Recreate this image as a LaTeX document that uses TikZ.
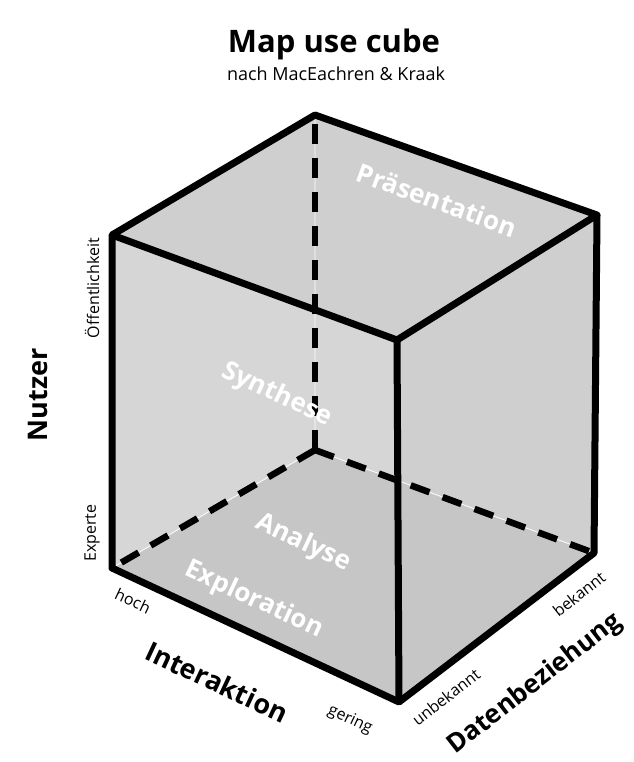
\documentclass[tikz,border=0pt]{standalone}
\usepackage{fontspec}
\setmainfont{Open Sans}
\definecolor{cubegray}{HTML}{CFCFCF}
\definecolor{floorgray}{HTML}{C6C6C6}
\definecolor{leftgray}{HTML}{D6D6D6}
\tikzset{
  edge/.style={line width=7pt, line join=round},
  hidden/.style={line width=6.5pt, dash pattern=on 20pt off 14pt},
  faint/.style={white, line width=0.8pt},
  facelabel/.style={text=white, font=\bfseries\fontsize{26}{30}\selectfont},
  axislabel/.style={font=\bfseries\fontsize{27}{30}\selectfont},
  ticklabel/.style={font=\fontsize{16}{18}\selectfont}
}
\begin{document}
\begin{tikzpicture}[x=1pt,y=-1pt]
        \useasboundingbox (0,0) rectangle (633,762);
        % corners
        \coordinate (tb) at (315,115);
        \coordinate (tl) at (112,235);
        \coordinate (tr) at (597,215);
        \coordinate (tf) at (397,340);
        \coordinate (bb) at (315,450);
        \coordinate (bl) at (112,568);
        \coordinate (br) at (594,553);
        \coordinate (bf) at (399,702);
        % faces
        \fill[cubegray] (tb) -- (tr) -- (br) -- (bf) -- (bl) -- (tl) -- cycle;
        \fill[leftgray] (tl) -- (tf) -- (bf) -- (bl) -- cycle;
        \fill[floorgray] (bb) -- (br) -- (bf) -- (bl) -- cycle;
        % hidden edges
        \draw[faint] (tb) -- (bb) (bb) -- (bl) (bb) -- (br);
        \draw[hidden] (bb) -- (tb);
        \draw[hidden] (bb) -- (bl);
        \draw[hidden] (bb) -- (br);
        % visible edges
        \draw[edge] (tb) -- (tr) -- (br) -- (bf) -- (bl) -- (tl) -- cycle;
        \draw[edge] (tl) -- (tf) -- (tr);
        \draw[edge] (tf) -- (bf);
        % title
        \node[font=\bfseries\fontsize{31}{34}\selectfont] (title) at (334,44) {Map use cube};
        \node[font=\fontsize{18}{20}\selectfont] (sub) at (336,74) {nach MacEachren \& Kraak};
        % face texts
        \node[facelabel, rotate=-20] (praes) at (437,200) {Präsentation};
        \node[facelabel, rotate=-25] (synth) at (277,395) {Synthese};
        \node[facelabel, rotate=-25] (anal) at (303,543) {Analyse};
        \node[facelabel, rotate=-25] (explo) at (254,600) {Exploration};
        % Nutzer
        \node[axislabel, rotate=90] (nutzer) at (38,395) {Nutzer};
        \node[ticklabel, rotate=90] (oeff) at (92,288) {Öffentlichkeit};
        \node[ticklabel, rotate=90] (exp) at (92,533) {Experte};
        % Interaktion
        \node[ticklabel, rotate=-25] (hoch) at (133,601) {hoch};
        \node[axislabel, rotate=-25] (inter) at (217,682) {Interaktion};
        \node[ticklabel, rotate=-25] (gering) at (350,720) {gering};
        % Datenbeziehung
        \node[ticklabel, rotate=38] (unbek) at (446,697) {unbekannt};
        \node[ticklabel, rotate=38] (bek) at (579,594) {bekannt};
        \node[axislabel, rotate=38, font=\bfseries\fontsize{26}{30}\selectfont] (daten) at (535,684) {Datenbeziehung};
      \end{tikzpicture}
\end{document}
